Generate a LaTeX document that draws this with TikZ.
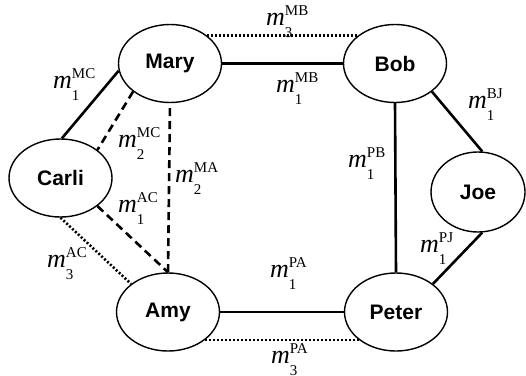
\documentclass[tikz,border=0pt]{standalone}
\usepackage{fontspec}
\setmainfont{Liberation Serif}
\newfontfamily\namefont{Liberation Sans}
\usetikzlibrary{shapes.geometric}
\newcommand{\mlab}[2]{{\fontsize{26}{26}\selectfont\itshape m}\rlap{\raisebox{10pt}{\fontsize{15}{15}\selectfont #1}}\raisebox{-12pt}{\fontsize{15}{15}\selectfont #2}}
\begin{document}
\begin{tikzpicture}[x=1pt,y=-1pt,
  person/.style={ellipse, draw, line width=1.4pt, minimum width=103pt, minimum height=78pt, inner sep=0pt, font=\namefont\bfseries\fontsize{21}{21}\selectfont},
  lab/.style={anchor=base west, inner sep=0pt},
  solidl/.style={line width=2.6pt},
  dashedl/.style={line width=2.6pt, dash pattern=on 8pt off 5pt},
  dottedl/.style={line width=2.6pt, dash pattern=on 2pt off 2pt}]
\useasboundingbox (0,0) rectangle (526,375);
\fill[white] (0,0) rectangle (526,375);
\node[person] (mary) at (170,63.5) {Mary};
\node[person] (bob) at (395,63.5) {Bob};
\node[person] (carli) at (60.5,178) {Carli};
\node[person, minimum width=94pt, minimum height=80pt] (joe) at (478,192) {Joe};
\node[person] (amy) at (168,312) {Amy};
\node[person] (peter) at (396,312) {Peter};
% connectors
\draw[solidl] (mary.east) -- (bob.west);
\draw[dottedl] (mary.north east) -- (bob.north west);
\draw[solidl] (mary.188) -- (carli.88);
\draw[dashedl] (mary.south west) -- (carli.north east);
\draw[dashedl, shorten <=5pt] (mary.south) -- (amy.north);
\draw[dashedl] (carli.south east) -- (amy.north);
\draw[dottedl] (carli.south) -- (amy.north west);
\draw[solidl] (amy.east) -- (peter.west);
\draw[dottedl] (amy.south east) -- (peter.south west);
\draw[solidl] (bob.south) -- (peter.north);
\draw[solidl] (bob.south east) -- (joe.84);
\draw[solidl] (peter.north east) -- (joe.276);
% labels
\node[lab] (l1) at (53,88) {\mlab{MC}{1}};
\node[lab] (l2) at (118,147) {\mlab{MC}{2}};
\node[lab] (l3) at (175,182) {\mlab{MA}{2}};
\node[lab] (l4) at (266,25) {\mlab{MB}{3}};
\node[lab] (l5) at (276,92) {\mlab{MB}{1}};
\node[lab] (l6) at (468,108) {\mlab{BJ}{1}};
\node[lab] (l7) at (348,167) {\mlab{PB}{1}};
\node[lab] (l8) at (420,252) {\mlab{PJ}{1}};
\node[lab] (l9) at (270,277) {\mlab{PA}{1}};
\node[lab] (l10) at (271,363) {\mlab{PA}{3}};
\node[lab] (l11) at (118,212) {\mlab{AC}{1}};
\node[lab] (l12) at (47,267) {\mlab{AC}{3}};
\end{tikzpicture}
\end{document}
